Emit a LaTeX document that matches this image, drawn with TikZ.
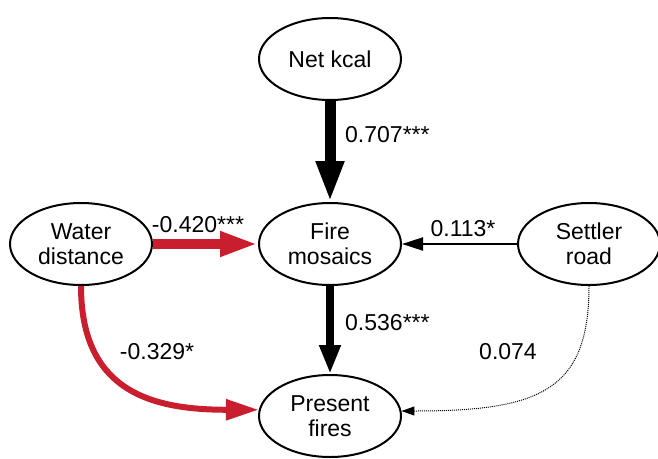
\documentclass[tikz,border=0pt]{standalone}
\usepackage{fontspec}
\setmainfont{Liberation Sans}
\usetikzlibrary{shapes.geometric,arrows.meta}
\definecolor{arrred}{RGB}{200,30,45}
\begin{document}
\begin{tikzpicture}[x=1pt,y=-1pt,
  var/.style={ellipse,draw,line width=2pt,minimum width=142pt,minimum height=82pt,inner sep=0pt,align=center,font=\fontsize{23}{25}\selectfont},
  lbl/.style={font=\fontsize{23}{25}\selectfont,inner sep=0pt}]
\useasboundingbox (0,0) rectangle (658,458);
\node[var] (net) at (330,59) {Net kcal};
\node[var] (fire) at (330,244) {Fire\\mosaics};
\node[var] (water) at (81,244) {Water\\distance};
\node[var] (settler) at (589,244) {Settler\\road};
\node[var] (present) at (330,416) {Present\\fires};

\draw[line width=11pt,-{Triangle[length=41pt,width=26pt]}] (net.south) -- (fire.north);
\draw[line width=10pt,arrred,-{Triangle[length=38pt,width=23pt]}] (water.east) -- (fire.west);
\draw[line width=2pt,-{Triangle[length=21pt,width=13pt]}] (settler.west) -- (fire.east);
\draw[line width=8pt,-{Triangle[length=29pt,width=20pt]}] (fire.south) -- (present.north);
\draw[line width=6pt,arrred,-{Triangle[length=33pt,width=20pt]}] (water.south) .. controls +(0,105) and +(-108,0) .. (present.175);
\draw[line width=1pt,densely dotted,-{Triangle[length=13pt,width=9pt]}] (settler.south) .. controls +(0,105) and +(138,0) .. (present.4);

\node[lbl,anchor=west] (l1) at (345,135) {0.707***};
\node[lbl] (l2) at (198,225) {-0.420***};
\node[lbl] (l3) at (463,229) {0.113*};
\node[lbl] (l4) at (157,352) {-0.329*};
\node[lbl,anchor=west] (l5) at (345,323) {0.536***};
\node[lbl] (l6) at (508,352) {0.074};
\end{tikzpicture}
\end{document}
